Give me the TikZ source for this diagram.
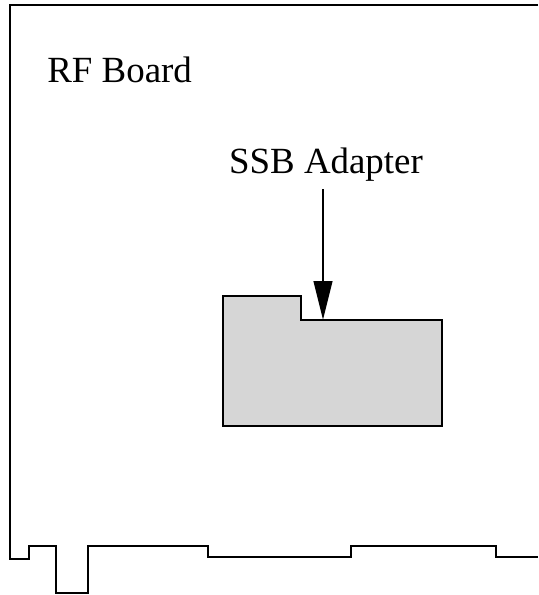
\documentclass[tikz,border=0pt]{standalone}
\usepackage{fontspec}
\setmainfont{Liberation Serif}
\usetikzlibrary{arrows.meta}

\begin{document}
\begin{tikzpicture}[
          x=0.02cm, y=-0.02cm,
          outline/.style={draw=black, line width=0.055cm, line join=miter},
          adapter/.style={outline, fill=black!16},
          caption/.style={font=\fontsize{21}{25}\selectfont, inner sep=0pt},
          pointer/.style={-{Triangle[length=0.78cm, width=0.37cm]}, line width=0.055cm}]

        \useasboundingbox (0,0) rectangle (538,595);

        % board edge
        \draw[outline] (538,5) -- (10,5) -- (10,559) -- (29,559) -- (29,546)
              -- (56,546) -- (56,593) -- (88,593) -- (88,546) -- (208,546)
              -- (208,557) -- (351,557) -- (351,546) -- (496,546) -- (496,557)
              -- (538,557);

        % adapter
        \draw[adapter] (223,296) -- (301,296) -- (301,320) -- (442,320)
              -- (442,426) -- (223,426) -- cycle;

        \node[caption, anchor=base west] (rf)  at (47,82)   {RF Board};
        \node[caption, anchor=base]      (ssb) at (326,173) {SSB Adapter};

        \coordinate (tail) at (323,189);
        \coordinate (tip)  at (323,320);
        \draw[pointer] (tail) -- (tip);

      \end{tikzpicture}
\end{document}
